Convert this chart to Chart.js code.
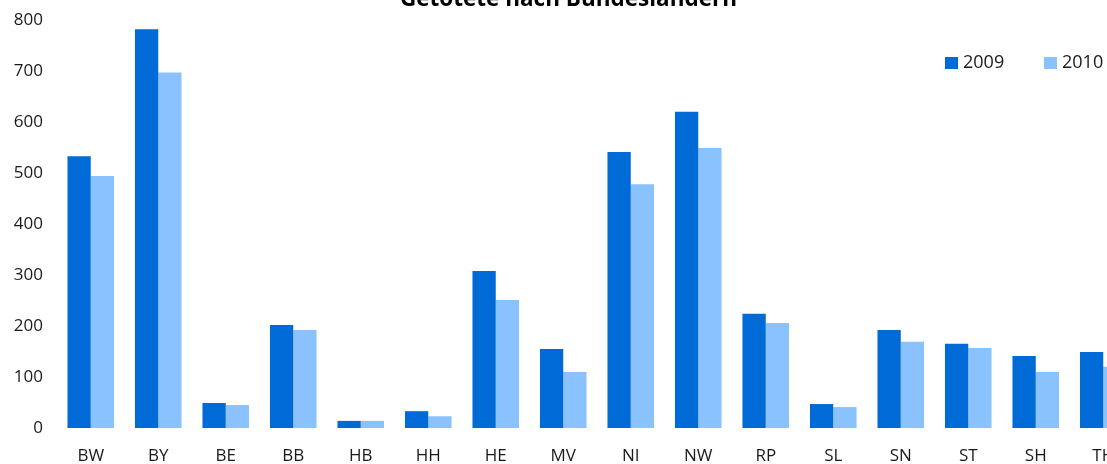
<!DOCTYPE html>
<html>
<head>
<meta charset="utf-8">
<script src="https://cdn.jsdelivr.net/npm/chart.js@4/dist/chart.umd.min.js"></script>
<style>
  html, body { margin: 0; padding: 0; background: #fff; overflow: hidden; }
  /* the original picture is a crop: title cut at the top, TH cut at the right */
  #wrap { position: absolute; left: 0; top: -22px; width: 1140px; height: 490px; }
</style>
</head>
<body>
<div id="wrap"><canvas id="chart" width="1140" height="490"></canvas></div>
<script>
const titleText = 'Getötete nach Bundesländern';
const states = ['BW', 'BY', 'BE', 'BB', 'HB', 'HH', 'HE', 'MV', 'NI', 'NW', 'RP', 'SL', 'SN', 'ST', 'SH', 'TH'];
const years = ['2009', '2010'];
const deaths2009 = [533, 782, 49, 202, 14, 33, 308, 155, 541, 620, 224, 47, 192, 165, 141, 149];
const deaths2010 = [494, 697, 45, 192, 14, 23, 251, 110, 478, 549, 206, 41, 169, 157, 110, 120];
const yMin = 0;
const yMax = 800;
const yStep = 100;

const FONT = 'Open Sans';
const TEXT = '#1a1a1a';

// legend sits inside the plot, top right
const insideLegend = {
  id: 'insideLegend',
  afterDraw(chart) {
    const ctx = chart.ctx;
    const area = chart.chartArea;
    let x = area.right - 192;
    const y = area.top + 43;
    ctx.save();
    ctx.font = '18px "' + FONT + '"';
    ctx.textBaseline = 'middle';
    ctx.textAlign = 'left';
    chart.data.datasets.forEach(ds => {
      ctx.fillStyle = ds.backgroundColor;
      ctx.fillRect(x, y - 6, 13, 12);
      ctx.fillStyle = TEXT;
      ctx.fillText(ds.label, x + 18, y);
      x += 99;
    });
    ctx.restore();
  }
};

new Chart(document.getElementById('chart'), {
  type: 'bar',
  data: {
    labels: states,
    datasets: [
      { label: years[0], data: deaths2009, backgroundColor: '#006bd7' },
      { label: years[1], data: deaths2010, backgroundColor: '#89c2ff' },
    ],
  },
  options: {
    responsive: false,
    animation: false,
    datasets: {
      bar: { barPercentage: 1, categoryPercentage: 0.69 },
    },
    layout: { padding: { left: 0, right: 3, top: 0, bottom: 0 } },
    plugins: {
      legend: { display: false },
      tooltip: { enabled: false },
      title: {
        display: true,
        text: titleText,
        color: '#000',
        font: { family: FONT, size: 22.5, weight: 'bold' },
        padding: { top: 8.5, bottom: 6.5 },
      },
    },
    scales: {
      x: {
        grid: { display: false, drawTicks: false },
        border: { display: false },
        ticks: { color: TEXT, font: { family: FONT, size: 17 }, padding: 18, autoSkip: false, maxRotation: 0 },
        afterFit: s => { s.height = 40; },
      },
      y: {
        min: yMin,
        max: yMax,
        grid: { display: false, drawTicks: false },
        border: { display: false },
        ticks: { stepSize: yStep, color: TEXT, font: { family: FONT, size: 17 }, padding: 14 },
        afterFit: s => { s.width = 57; },
      },
    },
  },
  plugins: [insideLegend],
});
</script>
</body>
</html>
